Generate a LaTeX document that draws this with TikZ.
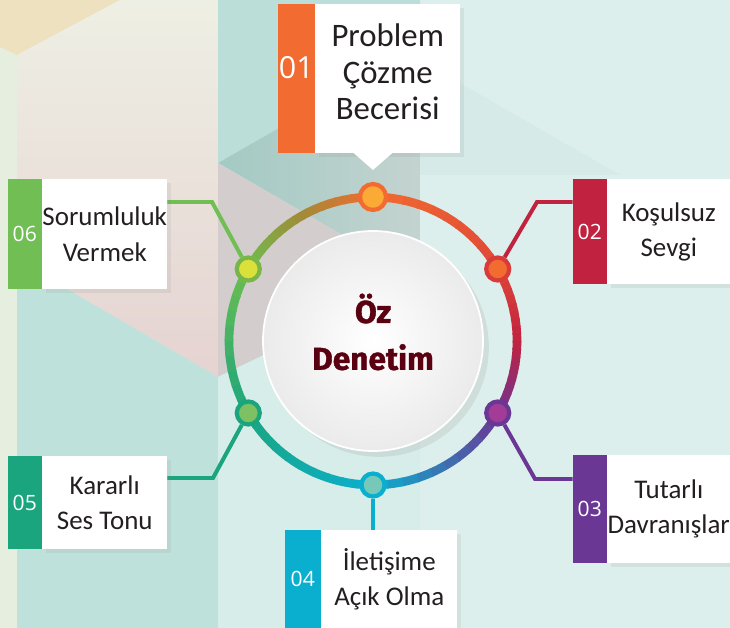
\documentclass[tikz,border=0pt]{standalone}
\usepackage{fontspec}
\setmainfont{Carlito}
\newfontfamily\numfont{Open Sans}
\newfontfamily\hubfont[BoldFeatures={FakeBold=1.2}]{Fira Sans}
\usetikzlibrary{shadows,calc}

% ring colours
\definecolor{rA}{HTML}{F26B30}
\definecolor{rB}{HTML}{DF4838}
\definecolor{rC}{HTML}{C1223F}
\definecolor{rD}{HTML}{6E3492}
\definecolor{rE}{HTML}{0AAFD0}
\definecolor{rF}{HTML}{1BA67E}
\definecolor{rG}{HTML}{6DBE4F}
\definecolor{rH}{HTML}{A08C38}
% item colours
\definecolor{c1}{HTML}{F26B30}\definecolor{c1in}{HTML}{FBAA36}
\definecolor{c2}{HTML}{C1223F}\definecolor{c2out}{HTML}{D83B3A}\definecolor{c2in}{HTML}{F26B30}
\definecolor{c3}{HTML}{6A3794}\definecolor{c3in}{HTML}{A23C96}
\definecolor{c4}{HTML}{0AAFD0}\definecolor{c4in}{HTML}{76C9B9}
\definecolor{c5}{HTML}{1BA57E}\definecolor{c5in}{HTML}{7DC163}
\definecolor{c6}{HTML}{70BE54}\definecolor{c6out}{HTML}{79B64A}\definecolor{c6in}{HTML}{DCE03A}
\definecolor{inkgray}{HTML}{231F20}
\definecolor{maroon}{HTML}{5A0010}
% background
\definecolor{bgmint}{HTML}{DDEFEC}
\definecolor{bgstrip}{HTML}{E6EFDF}
\definecolor{bgpeach}{HTML}{EDE1BF}
\definecolor{bgcream}{HTML}{EEEFE4}
\definecolor{bgpink}{HTML}{E5D3D1}
\definecolor{bgteal}{HTML}{BEE2DB}
\definecolor{colA}{HTML}{BCDED9}
\definecolor{colB}{HTML}{A3CAC3}
\definecolor{colBB}{HTML}{C4D3D0}
\definecolor{colC}{HTML}{D3CDCD}
\definecolor{colD}{HTML}{D7EDE9}
\definecolor{rightdk}{HTML}{D6EBE8}

\pgfdeclarelayer{bg}
\pgfdeclarelayer{wires}
\pgfsetlayers{bg,wires,main}

\newcommand\pxl[1]{#1*0.03cm}

\tikzset{
  ring/.style={line width=7.4pt},
  wire/.style={line width=3.4pt, line join=miter},
  dot/.style={circle, inner sep=0pt, minimum size=\pxl{23}, line width=3.6pt},
  card/.style={fill=white, inner sep=0pt, anchor=north west, align=center, text=inkgray,
    font=\fontsize{23}{30}\selectfont,
    drop shadow={shadow xshift=3pt, shadow yshift=-3pt, opacity=0.12}},
  tab/.style={inner sep=0pt, anchor=north east, text=white, font=\numfont\fontsize{18}{20}\selectfont},
}

\begin{document}
\begin{tikzpicture}[x=0.03cm, y=-0.03cm]
\useasboundingbox (0,0) rectangle (730,628);
\coordinate (ctr) at (373,341);

% background tiles
\begin{pgfonlayer}{bg}
  \fill[bgmint] (0,0) rectangle (730,628);
  \fill[bgstrip] (0,0) rectangle (17,628);
  \fill[bgpeach] (0,0) -- (120,0) -- (17,55) -- (0,47) -- cycle;
  \shade[top color=bgcream, bottom color=bgpink] (17,55) -- (120,0) -- (218,0) -- (218,377) -- (17,260) -- cycle;
  \fill[bgteal] (17,260) -- (218,377) -- (218,628) -- (17,628) -- cycle;
  \fill[colA] (218,0) -- (420,0) -- (420,47) -- (218,163) -- cycle;
  \shade[left color=colB, right color=colBB] (218,163) -- (420,47) -- (420,280) -- cycle;
  \fill[colC] (218,163) -- (420,280) -- (218,377) -- cycle;
  \fill[colD] (218,377) -- (420,280) -- (420,628) -- (218,628) -- cycle;
  \fill[rightdk] (420,60) -- (620,175) -- (420,175) -- cycle;
\end{pgfonlayer}

% colour ring
\foreach \a/\b/\ca/\cb in {-90/-30/rA/rB, -30/0/rB/rC, 0/30/rC/rD, 30/90/rD/rE,
    90/150/rE/rF, 150/210/rF/rG, 210/240/rG/rH, 240/270/rH/rA}
  \foreach \i in {1,...,10} {
    \pgfmathsetmacro\s{\a+(\b-\a)*(\i-1)/10}
    \pgfmathsetmacro\e{\a+(\b-\a)*\i/10+0.6}
    \pgfmathtruncatemacro\p{105-10*\i}
    \draw[ring, color=\ca!\p!\cb] ($(ctr)+(\s:144)$) arc[start angle=\s, end angle=\e, radius=144];
  }

% centre disc
\node (hub) [circle, minimum size=\pxl{220}, inner sep=0pt, draw=white, line width=1.5pt,
  inner color=white, outer color=black!8,
  drop shadow={shadow xshift=5pt, shadow yshift=-5pt, opacity=0.15}] at (ctr) {};
\node (title) [font=\hubfont\bfseries\fontsize{27}{40}\selectfont, text=maroon, align=center]
  at (373,332) {Öz\\Denetim};

% ring points
\node (n1) [dot, minimum size=\pxl{26}, draw=c1, fill=c1in] at ($(ctr)+(-90:144)$) {};
\node (n2) [dot, draw=c2out, fill=c2in] at ($(ctr)+(-30:144)$) {};
\node (n3) [dot, draw=c3, fill=c3in] at ($(ctr)+(30:144)$) {};
\node (n4) [dot, draw=c4, fill=c4in] at ($(ctr)+(90:144)$) {};
\node (n5) [dot, draw=c5, fill=c5in] at ($(ctr)+(150:144)$) {};
\node (n6) [dot, draw=c6out, fill=c6in] at ($(ctr)+(210:144)$) {};

% cards
\node (t1) [card, minimum width=\pxl{145}, minimum height=\pxl{149}, text depth=12pt,
  font=\fontsize{28}{31.5}\selectfont] at (315,4) {Problem\\Çözme\\Becerisi};
\node (s1) [tab, fill=c1, minimum width=\pxl{37}, minimum height=\pxl{149}, text depth=20pt,
  font=\numfont\fontsize{26}{28}\selectfont] at (t1.north west) {01};
\fill[white] ($(t1.south -| n1)+(-20,-1)$) -- ($(n1)+(0,-27)$) -- ($(t1.south -| n1)+(20,-1)$) -- cycle;

\node (t2) [card, minimum width=\pxl{123}, minimum height=\pxl{105}] at (607,179) {Koşulsuz\\Sevgi};
\node (s2) [tab, fill=c2, minimum width=\pxl{34}, minimum height=\pxl{105}] at (t2.north west) {02};

\node (t3) [card, minimum width=\pxl{123}, minimum height=\pxl{108}] at (607,455) {Tutarlı\\Davranışlar};
\node (s3) [tab, fill=c3, minimum width=\pxl{34}, minimum height=\pxl{108}] at (t3.north west) {03};

\node (t4) [card, minimum width=\pxl{136}, minimum height=\pxl{98}] at (321,530) {İletişime\\Açık Olma};
\node (s4) [tab, fill=c4, minimum width=\pxl{36}, minimum height=\pxl{98}] at (t4.north west) {04};

\node (t5) [card, minimum width=\pxl{125}, minimum height=\pxl{93}] at (42,456) {Kararlı\\Ses Tonu};
\node (s5) [tab, fill=c5, minimum width=\pxl{34}, minimum height=\pxl{93}] at (t5.north west) {05};

\node (t6) [card, minimum width=\pxl{125}, minimum height=\pxl{110}] at (42,179) {Sorumluluk\\Vermek};
\node (s6) [tab, fill=c6, minimum width=\pxl{34}, minimum height=\pxl{110}] at (t6.north west) {06};

% connectors
\coordinate (e2) at (537,202);
\coordinate (e3) at (535,479);
\coordinate (e5) at (213,478);
\coordinate (e6) at (212,202);
\begin{pgfonlayer}{wires}
  \draw[wire, c2] (n2) -- (e2) -- (e2 -| s2.west);
  \draw[wire, c3] (n3) -- (e3) -- (e3 -| s3.west);
  \draw[wire, c4] (n4) -- (n4 |- t4.north);
  \draw[wire, c5] (n5) -- (e5) -- (e5 -| t5.east);
  \draw[wire, c6] (n6) -- (e6) -- (e6 -| t6.east);
\end{pgfonlayer}
\end{tikzpicture}
\end{document}
